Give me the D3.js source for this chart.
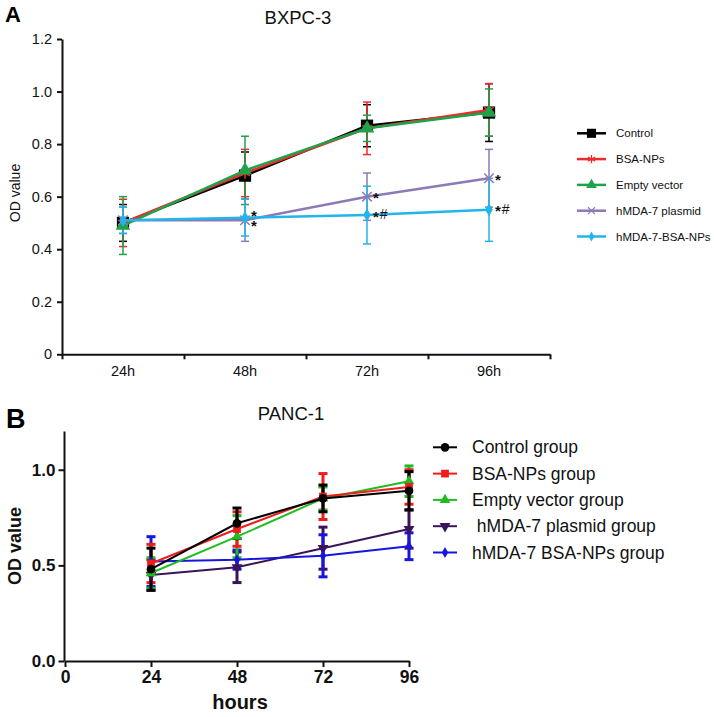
<!DOCTYPE html>
<html><head><meta charset="utf-8">
<script src="https://cdn.jsdelivr.net/npm/d3@7"></script>
<style>body{margin:0;background:#fff} svg{display:block;font-family:Arial,"Liberation Sans",sans-serif}</style>
</head><body><svg id="c" width="714" height="717"></svg>
<script>
// ---------- Panel A data (BXPC-3) ----------
const timesA = ["24h", "48h", "72h", "96h"];
const yTicksA = [0, 0.2, 0.4, 0.6, 0.8, 1.0, 1.2];
const yTickLabelsA = ["0", "0.2", "0.4", "0.6", "0.8", "1.0", "1.2"];
const seriesNamesA = ["Control", "BSA-NPs", "Empty vector", "hMDA-7 plasmid", "hMDA-7-BSA-NPs"];
const controlA   = [0.50, 0.68, 0.87, 0.92];
const controlErrA = [0.07, 0.09, 0.08, 0.11];
const bsaA       = [0.50, 0.69, 0.86, 0.93];
const bsaErrA    = [0.09, 0.09, 0.10, 0.10];
const emptyA     = [0.49, 0.70, 0.86, 0.92];
const emptyErrA  = [0.11, 0.13, 0.05, 0.09];
const plasmidA   = [0.51, 0.51, 0.60, 0.67];
const plasmidErrA = [0.05, 0.08, 0.09, 0.11];
const nanoA      = [0.51, 0.52, 0.53, 0.55];
const nanoErrA   = [0.05, 0.07, 0.11, 0.12];
// significance marks per time point: [series index, star, hash]
const annotationsA = [
  {i: 1, marks: [[4, "*", ""], [3, "*", ""]]},
  {i: 2, marks: [[3, "*", ""], [4, "*", "#"]]},
  {i: 3, marks: [[3, "*", ""], [4, "*", "#"]]}
];

// ---------- Panel B data (PANC-1) ----------
const hoursB = [24, 48, 72, 96];
const xTicksB = [0, 24, 48, 72, 96];
const yTicksB = [0, 0.5, 1.0];
const yTickLabelsB = ["0.0", "0.5", "1.0"];
const seriesNamesB = ["Control group", "BSA-NPs group", "Empty vector group", " hMDA-7 plasmid group", "hMDA-7 BSA-NPs group"];
const controlB    = [0.48, 0.72, 0.85, 0.89];
const controlErrB = [0.11, 0.08, 0.07, 0.10];
const bsaB        = [0.51, 0.69, 0.86, 0.91];
const bsaErrB     = [0.10, 0.09, 0.12, 0.09];
const emptyB      = [0.46, 0.65, 0.85, 0.94];
const emptyErrB   = [0.08, 0.11, 0.06, 0.08];
const plasmidB    = [0.45, 0.49, 0.59, 0.69];
const plasmidErrB = [0.08, 0.08, 0.11, 0.10];
const nanoB       = [0.52, 0.53, 0.55, 0.60];
const nanoErrB    = [0.13, 0.05, 0.11, 0.07];

const svg = d3.select("#c");
const FONT = "Arial, Liberation Sans, sans-serif";

// ================= PANEL A =================
const colorsA = ["#000000", "#f02a2a", "#1ea24a", "#8c7ab6", "#22b4ea"];
const shapesA = [d3.symbolSquare, d3.symbolAsterisk, d3.symbolTriangle, d3.symbolTimes, d3.symbolDiamond];
const filledA = [true, false, true, false, true];
const sizesA = [150, 90, 90, 60, 50];
const valsA = [controlA, bsaA, emptyA, plasmidA, nanoA];
const errsA = [controlErrA, bsaErrA, emptyErrA, plasmidErrA, nanoErrA];

const xA = d3.scaleBand().domain(timesA).range([62, 550]);
const xEdgeA = d3.scaleLinear().domain([0, 4]).range([62, 550]);
const yA = d3.scaleLinear().domain([0, 1.2]).range([354.3, 39]);
const gA = svg.append("g");
const cxA = i => xA(timesA[i]) + xA.bandwidth() / 2;

const yAxA = gA.append("g").attr("transform", "translate(62,0)")
  .call(d3.axisLeft(yA).tickValues(yTicksA).tickSize(5).tickSizeOuter(0).tickPadding(5)
    .tickFormat((d, i) => yTickLabelsA[i]));
yAxA.selectAll("text").attr("font-size", 14.5).attr("fill", "#111").attr("font-family", FONT);
yAxA.selectAll("path,line").attr("stroke", "#111").attr("stroke-width", 2);

const xAxA = gA.append("g").attr("transform", "translate(0,354.3)")
  .call(d3.axisBottom(xEdgeA).tickValues([0, 1, 2, 3, 4]).tickSize(5).tickSizeOuter(0).tickFormat(""));
xAxA.selectAll("path,line").attr("stroke", "#111").attr("stroke-width", 2);
const xLabA = gA.append("g").attr("transform", "translate(0,354.3)")
  .call(d3.axisBottom(xA).tickSize(0).tickPadding(11));
xLabA.select(".domain").remove();
xLabA.selectAll("text").attr("font-size", 14.5).attr("fill", "#111").attr("font-family", FONT);

gA.append("text").attr("x", 298).attr("y", 24).attr("text-anchor", "middle")
  .attr("font-size", 18.5).attr("fill", "#111").text("BXPC-3");
gA.append("text").attr("transform", "translate(20,193) rotate(-90)").attr("text-anchor", "middle")
  .attr("font-size", 14).attr("fill", "#111").text("OD value");
gA.append("text").attr("x", 5).attr("y", 22).attr("font-size", 22).attr("font-weight", "bold").text("A");

const lineA = d3.line().x((d, i) => cxA(i)).y(d => yA(d));
valsA.forEach((vals, s) => {
  const g = gA.append("g");
  vals.forEach((v, i) => {
    const cx = cxA(i), e = errsA[s][i];
    g.append("line").attr("x1", cx).attr("x2", cx).attr("y1", yA(v - e)).attr("y2", yA(v + e))
      .attr("stroke", colorsA[s]).attr("stroke-width", 1.5);
    [v - e, v + e].forEach(t => g.append("line").attr("x1", cx - 4).attr("x2", cx + 4)
      .attr("y1", yA(t)).attr("y2", yA(t)).attr("stroke", colorsA[s]).attr("stroke-width", 1.5));
  });
});
valsA.forEach((vals, s) => {
  gA.append("path").datum(vals).attr("d", lineA).attr("fill", "none")
    .attr("stroke", colorsA[s]).attr("stroke-width", 2.5);
  const sym = d3.symbol().type(shapesA[s]).size(sizesA[s]);
  vals.forEach((v, i) => {
    gA.append("path").attr("d", sym()).attr("transform", `translate(${cxA(i)},${yA(v)})`)
      .attr("fill", filledA[s] ? colorsA[s] : "none").attr("stroke", colorsA[s])
      .attr("stroke-width", filledA[s] ? 0 : 1.5);
  });
});
// significance marks
annotationsA.forEach(a => {
  const ys = a.marks.map(m => yA(valsA[m[0]][a.i]));
  const x0 = cxA(a.i) + 6;
  if (Math.abs(ys[0] - ys[1]) < 8) {
    // two nearly coincident points: stack the stars in one vertical text
    const mid = (ys[0] + ys[1]) / 2;
    gA.append("text").attr("x", x0 + 3).attr("y", mid - 12)
      .attr("writing-mode", "vertical-rl").style("text-orientation", "upright")
      .attr("letter-spacing", -6.5).attr("font-size", 15).attr("font-weight", "bold").attr("fill", "#111")
      .text(a.marks.map(m => m[1]).join(""));
  } else {
    a.marks.forEach((m, k) => {
      const t = gA.append("text").attr("fill", "#111");
      t.append("tspan").attr("x", x0).attr("y", ys[k] + 6.5)
        .attr("font-size", 15).attr("font-weight", "bold").text(m[1]);
      if (m[2]) t.append("tspan").attr("dx", 1).attr("y", ys[k] + 4)
        .attr("font-size", 14).attr("font-weight", "normal").text(m[2]);
    });
  }
});

const legA = gA.append("g");
seriesNamesA.forEach((n, s) => {
  const ly = 133.3 + s * 25.8;
  legA.append("line").attr("x1", 577).attr("x2", 606).attr("y1", ly).attr("y2", ly)
    .attr("stroke", colorsA[s]).attr("stroke-width", 2.5);
  const sym = d3.symbol().type(shapesA[s]).size(sizesA[s] * 0.55);
  legA.append("path").attr("d", sym()).attr("transform", `translate(591.5,${ly})`)
    .attr("fill", filledA[s] ? colorsA[s] : "none").attr("stroke", colorsA[s])
    .attr("stroke-width", filledA[s] ? 0 : 1.2);
  legA.append("text").attr("x", 616).attr("y", ly + 4).attr("font-size", 11.5).attr("fill", "#111").text(n);
});

// ================= PANEL B =================
const colorsB = ["#000000", "#f01c1c", "#22bb22", "#3a1458", "#1616e0"];
const shapesB = [d3.symbolCircle, d3.symbolSquare, d3.symbolTriangle, d3.symbolTriangle, d3.symbolDiamond];
const rotB = [0, 0, 0, 180, 0];
const sizesB = [60, 60, 50, 50, 35];
const valsB = [controlB, bsaB, emptyB, plasmidB, nanoB];
const errsB = [controlErrB, bsaErrB, emptyErrB, plasmidErrB, nanoErrB];
const drawOrderB = [3, 4, 2, 1, 0];

const xB = d3.scaleLinear().domain([0, 96]).range([65, 409]);
const yB = d3.scaleLinear().domain([0, 1.2]).range([661, 431.5]);
const gB = svg.append("g");

const yAxB = gB.append("g").attr("transform", "translate(64.5,0)")
  .call(d3.axisLeft(yB).tickValues(yTicksB).tickSize(6).tickSizeOuter(0).tickPadding(3)
    .tickFormat((d, i) => yTickLabelsB[i]));
yAxB.select(".domain").attr("d", `M0,${yB(1.2)}V${yB(0)}`);
yAxB.selectAll("text").attr("font-size", 17).attr("font-weight", "bold").attr("fill", "#111").attr("font-family", FONT);
yAxB.selectAll("path,line").attr("stroke", "#111").attr("stroke-width", 2);

const xAxB = gB.append("g").attr("transform", "translate(0,661)")
  .call(d3.axisBottom(xB).tickValues(xTicksB).tickSize(6).tickSizeOuter(0).tickPadding(4));
xAxB.selectAll("text").attr("font-size", 17.5).attr("font-weight", "bold").attr("fill", "#111").attr("font-family", FONT);
xAxB.selectAll("path,line").attr("stroke", "#111").attr("stroke-width", 2);

gB.append("text").attr("x", 240).attr("y", 709).attr("text-anchor", "middle")
  .attr("font-size", 20).attr("font-weight", "bold").attr("fill", "#111").text("hours");
gB.append("text").attr("transform", "translate(21,546) rotate(-90)").attr("text-anchor", "middle")
  .attr("font-size", 18).attr("font-weight", "bold").attr("fill", "#111").text("OD value");
gB.append("text").attr("x", 291).attr("y", 420).attr("text-anchor", "middle")
  .attr("font-size", 18.5).attr("fill", "#111").text("PANC-1");
gB.append("text").attr("x", 6).attr("y", 428).attr("font-size", 27).attr("font-weight", "bold").text("B");

const lineB = d3.line().x((d, i) => xB(hoursB[i])).y(d => yB(d));
drawOrderB.forEach(s => {
  const g = gB.append("g");
  valsB[s].forEach((v, i) => {
    const cx = xB(hoursB[i]), e = errsB[s][i];
    g.append("line").attr("x1", cx).attr("x2", cx).attr("y1", yB(v - e)).attr("y2", yB(v + e))
      .attr("stroke", colorsB[s]).attr("stroke-width", 3);
    [v - e, v + e].forEach(t => g.append("line").attr("x1", cx - 4.5).attr("x2", cx + 4.5)
      .attr("y1", yB(t)).attr("y2", yB(t)).attr("stroke", colorsB[s]).attr("stroke-width", 3));
  });
});
drawOrderB.forEach(s => {
  gB.append("path").datum(valsB[s]).attr("d", lineB).attr("fill", "none")
    .attr("stroke", colorsB[s]).attr("stroke-width", 2);
  const sym = d3.symbol().type(shapesB[s]).size(sizesB[s]);
  valsB[s].forEach((v, i) => {
    gB.append("path").attr("d", sym())
      .attr("transform", `translate(${xB(hoursB[i])},${yB(v)}) rotate(${rotB[s]})`)
      .attr("fill", colorsB[s]);
  });
});

const legB = gB.append("g");
seriesNamesB.forEach((n, s) => {
  const ly = 447.3 + s * 26.3;
  legB.append("line").attr("x1", 433).attr("x2", 457).attr("y1", ly).attr("y2", ly)
    .attr("stroke", colorsB[s]).attr("stroke-width", 2);
  const sym = d3.symbol().type(shapesB[s]).size(sizesB[s]);
  legB.append("path").attr("d", sym()).attr("transform", `translate(445,${ly}) rotate(${rotB[s]})`)
    .attr("fill", colorsB[s]);
  legB.append("text").attr("x", 472).attr("y", ly + 6).attr("font-size", 17.5).attr("fill", "#111")
    .attr("xml:space", "preserve").style("white-space", "pre").text(n);
});
</script></body></html>
